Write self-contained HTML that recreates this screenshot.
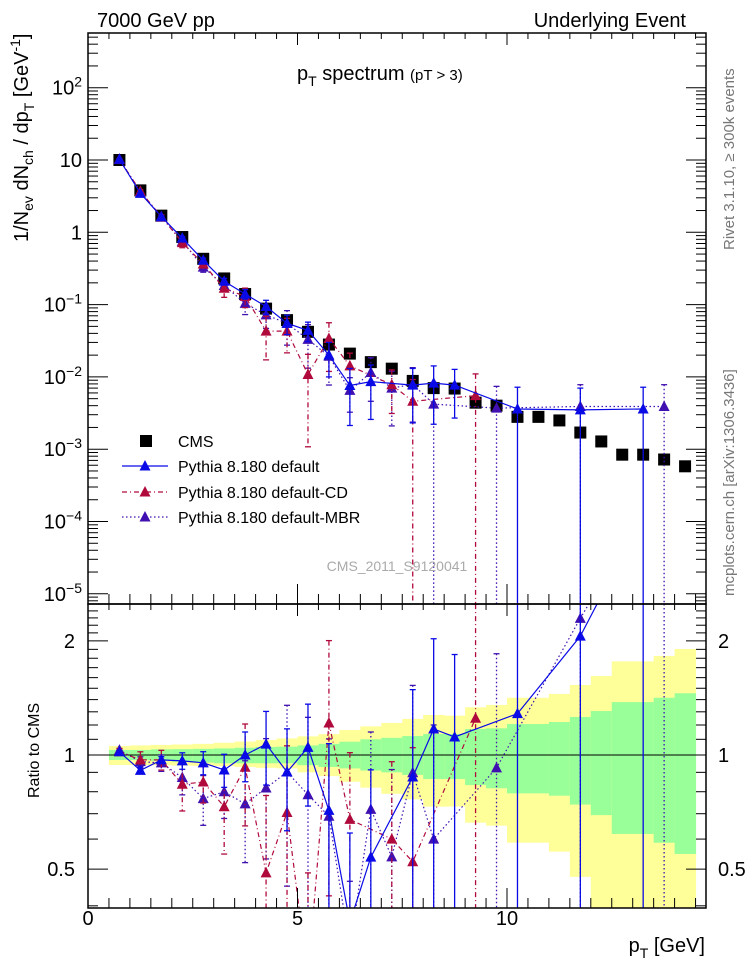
<!DOCTYPE html>
<html><head><meta charset="utf-8"><style>
html,body{margin:0;padding:0;background:#fff;width:746px;height:972px;overflow:hidden;}
svg{display:block;font-family:"Liberation Sans",sans-serif;}
</style></head><body>
<svg id="chart" width="746" height="972" viewBox="0 0 746 972" xmlns="http://www.w3.org/2000/svg">
<defs>
<clipPath id="cm"><rect x="88" y="33" width="618" height="571"/></clipPath>
<clipPath id="cr"><rect x="88" y="604" width="618" height="304"/></clipPath>
</defs>
<g id="bands" clip-path="url(#cr)"></g>
<line x1="88" x2="706" y1="755" y2="755" stroke="#000" stroke-width="1"/>
<g id="mainMarks" clip-path="url(#cm)"></g>
<g id="ratioMarks" clip-path="url(#cr)"></g>
<rect x="88" y="33" width="618" height="571" fill="none" stroke="#000" stroke-width="1.5"/>
<rect x="88" y="604" width="618" height="304" fill="none" stroke="#000" stroke-width="1.5"/>
<g id="axes"></g>
<text x="97" y="27" font-size="20">7000 GeV pp</text>
<text x="686" y="27" font-size="20" text-anchor="end">Underlying Event</text>
<text x="297" y="80" font-size="20">p<tspan font-size="14" dy="6">T</tspan><tspan dy="-6"> spectrum </tspan><tspan font-size="15">(pT &gt;  3)</tspan></text>
<text transform="translate(28,242) rotate(-90)" font-size="20">1/N<tspan font-size="14" dy="5">ev</tspan><tspan dy="-5"> dN</tspan><tspan font-size="14" dy="5">ch</tspan><tspan dy="-5"> / dp</tspan><tspan font-size="14" dy="6">T</tspan><tspan dy="-6"> [GeV</tspan><tspan font-size="14" dy="-8">-1</tspan><tspan dy="8">]</tspan></text>
<text transform="translate(39,798) rotate(-90)" font-size="16">Ratio to CMS</text>
<text x="705" y="952" font-size="20" text-anchor="end">p<tspan font-size="14" dy="6">T</tspan><tspan dy="-6"> [GeV]</tspan></text>
<text transform="translate(734,250) rotate(-90)" font-size="15" fill="#777">Rivet 3.1.10, ≥ 300k events</text>
<text transform="translate(734,596) rotate(-90)" font-size="15" fill="#777">mcplots.cern.ch [arXiv:1306.3436]</text>
<text x="397" y="571" font-size="14" fill="#aaa" text-anchor="middle">CMS_2011_S9120041</text>
<g id="legend"></g>
</svg>
<script>
// ---- data ----
const xCenters = [0.75,1.25,1.75,2.25,2.75,3.25,3.75,4.25,4.75,5.25,5.75,6.25,6.75,7.25,7.75,8.25,8.75,9.25,9.75,10.25,10.75,11.25,11.75,12.25,12.75,13.25,13.75,14.25];
const cmsValues = [10,3.8,1.7,0.86,0.43,0.23,0.14,0.088,0.061,0.042,0.028,0.021,0.016,0.013,0.0088,0.0070,0.0069,0.0044,0.0040,0.0028,0.0028,0.0025,0.0017,0.00128,0.00084,0.00084,0.00072,0.00058];
const defaultValues = [10.2,3.46,1.65,0.83,0.41,0.21,0.14,0.094,0.055,0.044,0.020,0.0076,0.0086,null,0.0077,0.0082,0.0077,null,null,0.0036,null,null,0.0035,null,null,0.0036,null,null];
const defaultErr = [0.01,0.02,0.02,0.05,0.07,0.1,0.15,0.22,0.3,0.3,0.5,0.72,0.7,null,0.7,0.73,0.65,null,null,1,null,null,1,null,null,1,null,null];
const cdValues = [10.2,3.69,1.65,0.72,0.365,0.168,0.13,0.043,0.043,0.0108,0.034,0.0142,null,0.0078,0.0046,null,null,0.0055,null,null,null,null,null,null,null,null,null,null];
const cdErr = [0.02,0.05,0.06,0.15,0.12,0.25,0.3,0.6,0.5,0.9,0.65,0.5,null,0.6,1,null,null,1,null,null,null,null,null,null,null,null,null,null];
const mbrValues = [10.3,3.65,1.62,0.75,0.33,0.184,0.104,0.072,0.055,0.033,0.0193,0.0065,0.0115,0.0070,0.0079,0.0042,null,null,0.0037,null,null,null,0.0039,null,null,null,0.0039,null];
const mbrErr = [0.01,0.03,0.05,0.1,0.15,0.15,0.3,0.35,0.5,0.6,0.6,0.5,0.6,0.7,0.7,1,null,null,1,null,null,null,1,null,null,null,1,null];
const bandEdges = [0.5,1,1.5,2,2.5,3,3.5,4,4.5,5,5.5,6,6.5,7,7.5,8,8.5,9,9.5,10,11,11.5,12,12.5,13.5,14,14.5];
const yellowHi = [1.056,1.06,1.063,1.066,1.07,1.077,1.085,1.095,1.106,1.12,1.135,1.164,1.19,1.215,1.245,1.275,1.27,1.336,1.355,1.416,1.449,1.53,1.616,1.766,1.825,1.904];
const greenHi = [1.031,1.031,1.035,1.036,1.038,1.041,1.045,1.05,1.052,1.06,1.07,1.084,1.1,1.11,1.122,1.136,1.136,1.171,1.176,1.207,1.222,1.26,1.306,1.379,1.416,1.455];
const greenLo = [0.97,0.97,0.965,0.96,0.955,0.951,0.951,0.951,0.951,0.94,0.93,0.922,0.91,0.9,0.886,0.864,0.864,0.833,0.817,0.792,0.781,0.74,0.694,0.619,0.587,0.548];
const yellowLo = [0.941,0.941,0.94,0.938,0.936,0.935,0.93,0.925,0.922,0.9,0.88,0.85,0.82,0.79,0.764,0.731,0.731,0.663,0.651,0.587,0.556,0.477,0.3,0.3,0.3,0.3];
const mainTickLabels = ["10^-5","10^-4","10^-3","10^-2","10^-1","1","10","10^2"];
const ratioTickLabels = ["0.5","1","2"];
const xTickLabels = ["0","5","10"];

// ---- scales ----
const X0=88, XPU=41.9;
const xs = v => X0 + v*XPU;
const ym = v => 160 - (Math.log10(v)-1)*72.3;
const yr = v => 755 - Math.log10(v)*379;
const NS="http://www.w3.org/2000/svg";
function mk(tag, parent, attrs){const e=document.createElementNS(NS,tag);for(const k in attrs)e.setAttribute(k,attrs[k]);parent.appendChild(e);return e;}

const bands=document.getElementById('bands');
for(let i=0;i<yellowHi.length;i++){
  const x0=xs(bandEdges[i]), x1=xs(bandEdges[i+1]);
  const yb=mk('rect',bands,{x:x0,y:yr(yellowHi[i]),width:x1-x0+0.5,height:yr(yellowLo[i])-yr(yellowHi[i]),fill:'#ffff99'});
  
  
  const gb=mk('rect',bands,{x:x0,y:yr(greenHi[i]),width:x1-x0+0.5,height:yr(greenLo[i])-yr(greenHi[i]),fill:'#99ff99'});
  
  
}

const series=[
  {name:'pythia-default',vals:defaultValues,err:defaultErr,color:'#0a0ae6',dash:''},
  {name:'pythia-default-cd',vals:cdValues,err:cdErr,color:'#b00a3c',dash:'5,3,1,3'},
  {name:'pythia-default-mbr',vals:mbrValues,err:mbrErr,color:'#4010b0',dash:'1.5,2.5'}
];
function tri(g,x,y,c,nm){const p=mk('polygon',g,{points:`${x-5.5},${y+4.5} ${x+5.5},${y+4.5} ${x},${y-6}`,fill:c});}
const mm=document.getElementById('mainMarks'), rm=document.getElementById('ratioMarks');
xCenters.forEach((x,i)=>{const r=mk('rect',mm,{x:xs(x)-6,y:ym(cmsValues[i])-6,width:12,height:12,fill:'#000'});
  
  });
series.slice().reverse().forEach(s=>{
  const gm=mk('g',mm,{}), gr=mk('g',rm,{});
  
  
  
  
  let pm=[],pr=[];
  xCenters.forEach((x,i)=>{const v=s.vals[i]; if(v==null)return;
    pm.push(xs(x)+','+ym(v)); pr.push(xs(x)+','+yr(v/cmsValues[i]));});
  const l1=mk('polyline',gm,{points:pm.join(' '),fill:'none',stroke:s.color,'stroke-width':1.2,'stroke-dasharray':s.dash});
  
  
  const l2=mk('polyline',gr,{points:pr.join(' '),fill:'none',stroke:s.color,'stroke-width':1.2,'stroke-dasharray':s.dash});
  
  
  xCenters.forEach((x,i)=>{const v=s.vals[i]; if(v==null)return; const e=s.err[i];
    const hi=v*(1+e), lo=e>=1?1e-9:v*(1-e); const r=v/cmsValues[i];
    const X=xs(x);
    [[ym(hi),ym(lo),gm,33,604],[yr(hi/cmsValues[i]),yr(lo/cmsValues[i]),gr,604,908]].forEach(([a,b,g,top,bot])=>{
      const bl=mk('line',g,{x1:X,x2:X,y1:Math.max(a,top),y2:Math.min(b,bot),stroke:s.color,'stroke-width':1.3,'stroke-dasharray':s.dash});
      
      
      if(a>top) mk('line',g,{x1:X-3,x2:X+3,y1:a,y2:a,stroke:s.color,'stroke-width':1.3});
      if(b<bot) mk('line',g,{x1:X-3,x2:X+3,y1:b,y2:b,stroke:s.color,'stroke-width':1.3});
    });
    tri(gm,X,ym(v),s.color,s.name+'-point');
    tri(gr,X,yr(r),s.color,s.name+'-ratio-point');
  });
});

const ax=document.getElementById('axes');
function tk(x1,y1,x2,y2){mk('line',ax,{x1:x1,y1:y1,x2:x2,y2:y2,stroke:'#000','stroke-width':1});}
for(let d=-6;d<=2;d++){for(let m=1;m<10;m++){const v=m*Math.pow(10,d);const y=ym(v);if(y<33||y>604)continue;
  const L=m===1?20:10; tk(88,y,88+L,y); tk(706,y,706-L,y);}}
mainTickLabels.forEach((t,i)=>{const d=i-5;const y=ym(Math.pow(10,d));
  const tx=mk('text',ax,{x:82,y:y+7,'font-size':20,'text-anchor':'end'});
  
  
  if(t.includes('^')){const parts=t.split('^');tx.textContent=parts[0];const ts=mk('tspan',tx,{'font-size':14,dy:-8});ts.textContent=parts[1].replace('-','\u2212');}
  else tx.textContent=t;});
[0.4,0.5,0.6,0.7,0.8,0.9,1,1.1,1.2,1.3,1.4,1.5,1.6,1.7,1.8,1.9,2,2.1,2.2,2.3,2.4].forEach(v=>{const y=yr(v);if(y<604||y>908)return;
  const L=(v===0.5||v===1||v===2)?20:10; tk(88,y,88+L,y); tk(706,y,706-L,y);});
ratioTickLabels.forEach(t=>{const y=yr(parseFloat(t));
  const a=mk('text',ax,{x:75,y:y+7,'font-size':20,'text-anchor':'end'});a.textContent=t;
  
  
  const b=mk('text',ax,{x:718,y:y+7,'font-size':20});b.textContent=t;
  
  });
for(let v=0;v<=14.5;v+=0.5){const X=xs(v);const L=(v%5===0)?20:10;
  tk(X,604,X,604-L); tk(X,908,X,908-L); tk(X,33,X,33+L*0.6); tk(X,604,X,604+L*0.6);}
xTickLabels.forEach(t=>{const a=mk('text',ax,{x:xs(parseFloat(t)),y:925,'font-size':20,'text-anchor':'middle'});a.textContent=t;
  
  });

const lg=document.getElementById('legend');
const entries=[['CMS',null,'',441],['Pythia 8.180 default','#0a0ae6','',466],['Pythia 8.180 default-CD','#b00a3c','5,3,1,3',492],['Pythia 8.180 default-MBR','#4010b0','1.5,2.5',517]];
entries.forEach(en=>{const t=en[0],c=en[1],d=en[2],y=en[3];
  const g=mk('g',lg,{});
  
  
  if(!c){mk('rect',g,{x:140,y:y-6,width:12,height:12,fill:'#000'});}
  else{mk('line',g,{x1:122,x2:168,y1:y,y2:y,stroke:c,'stroke-width':1.2,'stroke-dasharray':d});tri(g,145,y,c,'legend-marker');}
  const tx=mk('text',g,{x:178,y:y+6,'font-size':16});tx.textContent=t;
});
</script>
</body></html>
